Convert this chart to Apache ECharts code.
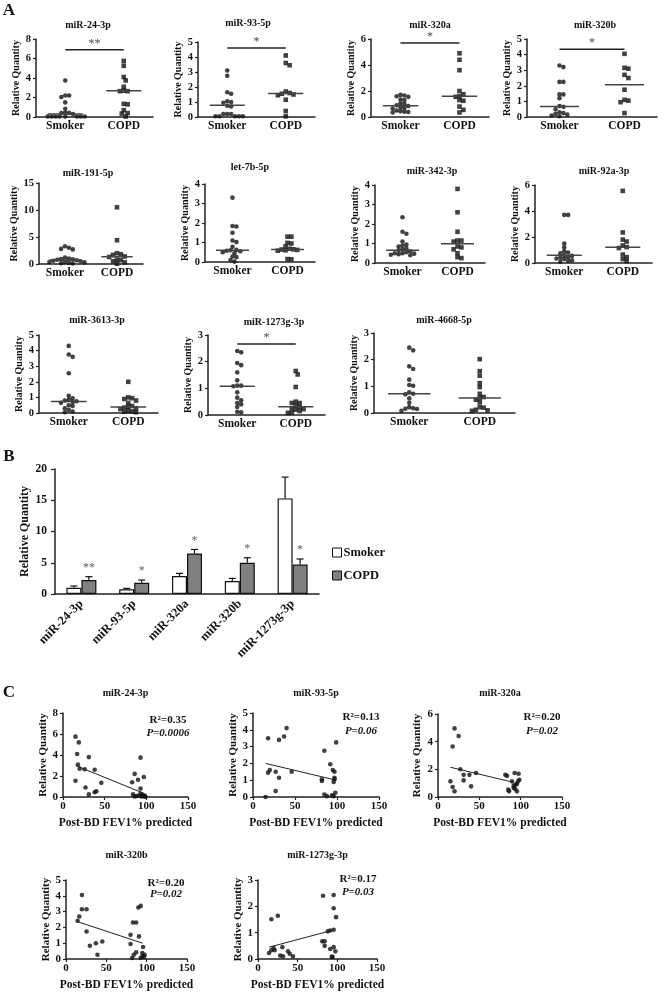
<!DOCTYPE html>
<html>
<head>
<meta charset="utf-8">
<script src="https://cdn.jsdelivr.net/npm/echarts@6/dist/echarts.min.js"></script>
<style>
html, body { margin: 0; padding: 0; background: #fff; }
#chart { width: 664px; height: 992px; }
</style>
</head>
<body>
<div id="chart"></div>
<script>
/* ---------- Panel A : dot plots (Smoker vs COPD) ---------- */
var aTitles = ['miR-24-3p', 'miR-93-5p', 'miR-320a', 'miR-320b', 'miR-191-5p', 'let-7b-5p',
               'miR-342-3p', 'miR-92a-3p', 'miR-3613-3p', 'miR-1273g-3p', 'miR-4668-5p'];
var groupLabels = ['Smoker', 'COPD'];

var smoker243 = [3.75, 2.2, 2.2, 2.05, 1.5, 0.85, 0.45, 0.42, 0.4, 0.3, 0.05, 0.05, 0.05, 0.05, 0.05, 0.05, 0.05, 0.05];
var copd243 = [5.75, 5.25, 4.1, 3.75, 3.1, 2.7, 2.65, 2.65, 1.35, 1.3, 0.7, 0.4, 0.35, 0.05];
var smoker935 = [3.1, 2.75, 1.65, 1.55, 1.05, 1.0, 0.95, 0.75, 0.7, 0.2, 0.2, 0.2, 0.05, 0.05, 0.05, 0.05, 0.05];
var copd935 = [4.1, 3.6, 3.45, 1.7, 1.6, 1.55, 1.5, 1.45, 1.15, 0.4, 0.05];
var smoker320a = [1.7, 1.65, 1.6, 1.55, 1.35, 1.3, 1.05, 1.0, 0.9, 0.85, 0.75, 0.7, 0.65, 0.5, 0.45, 0.4, 0.38, 0.35];
var copd320a = [4.9, 4.4, 3.6, 2.0, 1.75, 1.6, 1.55, 1.3, 1.25, 0.8, 0.55, 0.35];
var smoker320b = [3.3, 3.2, 2.25, 2.25, 1.45, 1.45, 1.2, 0.7, 0.65, 0.5, 0.3, 0.25, 0.2, 0.15, 0.1, 0.05];
var copd320b = [4.05, 3.15, 3.1, 2.7, 2.5, 1.75, 1.1, 1.05, 0.95, 0.25];
var smoker191 = [3.3, 3.0, 2.8, 2.7, 1.2, 1.0, 0.9, 0.85, 0.8, 0.7, 0.6, 0.5, 0.4, 0.35, 0.3, 0.2, 0.15, 0.1];
var copd191 = [10.5, 4.4, 2.0, 1.8, 1.7, 1.4, 1.3, 0.8, 0.7, 0.5, 0.3, 0.05];
var smokerLet7b = [3.3, 1.85, 1.82, 1.5, 1.1, 1.02, 0.78, 0.62, 0.6, 0.58, 0.55, 0.5, 0.45, 0.28, 0.25, 0.1, 0.02];
var copdLet7b = [1.3, 1.3, 0.98, 0.95, 0.8, 0.68, 0.65, 0.64, 0.62, 0.6, 0.58, 0.15, 0.14];
var smoker342 = [2.35, 1.6, 1.5, 1.1, 0.95, 0.9, 0.85, 0.75, 0.7, 0.65, 0.6, 0.55, 0.5, 0.5, 0.48, 0.45, 0.42, 0.4];
var copd342 = [3.8, 2.6, 1.6, 1.15, 1.15, 1.1, 0.85, 0.8, 0.7, 0.5, 0.3, 0.25];
var smoker92a = [3.7, 3.7, 1.5, 1.2, 0.9, 0.8, 0.75, 0.6, 0.55, 0.45, 0.4, 0.35, 0.3, 0.2, 0.15, 0.1];
var copd92a = [5.55, 2.35, 1.8, 1.65, 1.35, 1.22, 1.15, 0.65, 0.45, 0.3, 0.15];
var smoker3613 = [4.3, 3.75, 3.6, 2.55, 1.1, 0.95, 0.85, 0.8, 0.75, 0.7, 0.65, 0.5, 0.45, 0.3, 0.2, 0.1, 0.05];
var copd3613 = [2.0, 1.0, 0.95, 0.9, 0.8, 0.65, 0.45, 0.4, 0.35, 0.3, 0.25, 0.15, 0.1, 0.08, 0.05];
var smoker1273 = [2.4, 2.35, 1.95, 1.87, 1.6, 1.3, 1.1, 1.1, 1.08, 0.85, 0.65, 0.55, 0.45, 0.4, 0.3, 0.12, 0.1];
var copd1273 = [1.65, 1.52, 1.05, 0.5, 0.45, 0.45, 0.35, 0.3, 0.25, 0.22, 0.2, 0.15, 0.1, 0.08];
var smoker4668 = [2.45, 2.35, 1.75, 1.65, 1.25, 1.05, 1.02, 0.78, 0.72, 0.7, 0.55, 0.38, 0.22, 0.18, 0.16, 0.15, 0.08];
var copd4668 = [2.02, 1.57, 1.4, 1.12, 0.97, 0.72, 0.6, 0.56, 0.5, 0.4, 0.22, 0.2, 0.12, 0.1, 0.08];

var aMedSmoker = [0.3, 0.78, 0.87, 0.68, 0.74, 0.6, 0.65, 0.59, 0.74, 1.08, 0.72];
var aMedCopd = [2.7, 1.56, 1.59, 2.07, 1.35, 0.64, 0.99, 1.22, 0.38, 0.31, 0.56];
var aYMax = [8, 5, 6, 5, 15, 4, 4, 6, 5, 3, 3];
var aYStep = [2, 1, 2, 1, 5, 1, 1, 2, 1, 1, 1];
var aSigLevel = [6.9, 4.6, 5.7, 4.35, null, null, null, null, null, 2.66, null];
var aSigMark = ['**', '*', '*', '*', '', '', '', '', '', '*', ''];

/* ---------- Panel B : bar chart ---------- */
var bCats = ['miR-24-3p', 'miR-93-5p', 'miR-320a', 'miR-320b', 'miR-1273g-3p'];
var bSmoker = [1.0, 0.75, 2.87, 2.07, 15.3];
var bSmokerErr = [1.28, 0.9, 3.3, 2.5, 18.7];
var bCopd = [2.23, 1.81, 6.49, 5.0, 4.72];
var bCopdErr = [2.77, 2.23, 7.13, 5.8, 5.6];
var bStars = ['**', '*', '*', '*', '*'];
var bYTicks = [0, 5, 10, 15, 20];

/* ---------- Panel C : correlation with FEV1 ---------- */
var cTitles = ['miR-24-3p', 'miR-93-5p', 'miR-320a', 'miR-320b', 'miR-1273g-3p'];
var cR2 = ['0.35', '0.13', '0.20', '0.20', '0.17'];
var cP = ['0.0006', '0.06', '0.02', '0.02', '0.03'];
var cYMax = [8, 5, 6, 5, 3];
var cYStep = [2, 1, 2, 1, 1];
var cXTicks = [0, 50, 100, 150];

var fev24 = [[15, 5.75], [19, 5.2], [17, 4.1], [18, 3.1], [20, 2.7], [15, 1.55], [26, 2.65], [31, 3.8], [38, 2.6],
  [27, 0.9], [31, 0.25], [38, 0.45], [40, 0.55], [46, 1.35], [83, 1.4], [86, 2.2], [90, 1.65], [93, 3.75], [93, 0.8],
  [97, 1.9], [84, 0.25], [86, 0.05], [88, 0.1], [91, 0.15], [93, 0.3], [94, 0.05], [95, 0.2], [96, 0.1], [97, 0.05],
  [98, 0.15], [99, 0.02]];
var fev93 = [[15, 0.0], [18, 3.5], [18, 1.45], [20, 1.6], [27, 1.5], [27, 0.35], [31, 3.4], [31, 1.15], [37, 3.6],
  [40, 4.1], [46, 1.5], [82, 1.05], [82, 0.95], [85, 2.75], [85, 0.15], [88, 0.05], [92, 1.95], [94, 0.1], [95, 1.6],
  [96, 0.9], [96, 0.05], [97, 1.5], [97, 1.15], [97, 1.05], [98, 0.25], [99, 3.25]];
var fev320a = [[15, 1.13], [17.7, 3.65], [20, 4.96], [17.7, 0.72], [20, 0.41], [25, 4.41], [27, 2.01], [31, 1.6],
  [31, 1.2], [38, 1.6], [40, 0.77], [46, 1.73], [81.5, 1.6], [83.5, 1.53], [85, 0.53], [86, 0.41], [89.5, 1.13],
  [91.5, 0.82], [91.5, 0.65], [92.7, 1.73], [93.5, 0.58], [94, 0.89], [95.5, 0.41], [96.8, 1.13], [97.5, 1.68],
  [98.4, 1.25], [95.5, 0.96]];
var fev320b = [[14.4, 2.42], [16.5, 2.69], [19.8, 4.05], [19.8, 3.15], [25.5, 3.15], [25.5, 1.74], [29.6, 0.84],
  [37, 1.0], [39, 0.27], [45, 1.11], [80, 0.95], [80, 1.53], [82, 0.06], [83, 2.31], [87, 2.31], [84, 0.27],
  [87, 0.42], [89.7, 3.26], [92.6, 3.36], [90.5, 1.43], [92.6, 0.06], [94.6, 0.17], [94.6, 0.38], [95.5, 0.76],
  [96.7, 0.13], [97.5, 0.27]];
var fev1273 = [[13.9, 0.23], [16.8, 0.33], [16.8, 1.51], [19.7, 0.42], [21, 0.33], [25, 1.64], [28, 0.13],
  [30.7, 0.45], [31.5, 0.1], [37.8, 0.29], [40, 0.2], [44, 0.1], [82, 2.4], [81, 0.67], [84, 0.67], [84, 0.5],
  [88, 1.05], [91, 1.08], [91, 0.38], [93, 0.08], [95.4, 2.43], [95.4, 1.93], [98.4, 1.59], [95.4, 1.11],
  [95.4, 0.45], [97.5, 0.29], [94, 0.08]];
var fitLine24 = [[15, 3.0], [97, 0.35]];
var fitLine93 = [[15, 2.0], [99, 1.0]];
var fitLine320a = [[15, 2.15], [92, 1.05]];
var fitLine320b = [[14, 2.37], [95, 1.0]];
var fitLine1273 = [[14, 0.45], [95, 1.1]];

/* ---------- layout ---------- */
var FONT = '"Liberation Serif", "Times New Roman", serif';
var INK = '#111';
// [left, top, right, bottom] of each panel-A plot area, y-name gap, title centre
var aBoxes = [[36, 39, 153, 117], [198, 42, 315, 117], [371, 39, 489, 117], [527, 39, 657, 117],
              [39, 183, 143, 264], [205, 184, 315, 262], [375, 185, 485, 263], [535, 185, 652, 263],
              [39, 335, 158, 413], [208, 335, 325, 415], [374, 333, 515, 413]];
var aNameGap = [13, 10, 15, 8, 20, 14, 11, 6, 8, 10, 7];
var aTitlePos = [[88, 25], [248, 23], [430, 25], [595, 25], [88, 173], [250, 167], [432, 171], [604, 171],
                 [97, 320], [274, 322], [444, 320]];
var cBoxes = [[63, 713, 125, 84], [253, 713, 126, 84], [438, 714, 124, 83], [66, 880, 121, 79], [258, 880, 119, 79]];
var cNameGap = [11, 14, 15, 14, 14];
var cTitleY = [693, 693, 693, 855, 855];
var cStatPos = [[168, 720, 733], [361, 717, 731], [542, 717, 731], [166, 883, 894], [358, 879, 892]];

var grids = [], xAxes = [], yAxes = [], series = [], graphics = [];

function txt(x, y, s, size, weight, style) {
    graphics.push({
        type: 'text', x: x, y: y, silent: true,
        style: {
            text: s, fill: INK, fontFamily: FONT, fontSize: size,
            fontWeight: weight || 'bold', fontStyle: style || 'normal',
            align: 'center', verticalAlign: 'middle'
        }
    });
}

function axisLine() {
    return { show: true, onZero: false, lineStyle: { color: '#222', width: 1.5 } };
}

function labelStyle(size, margin) {
    return { fontFamily: FONT, fontWeight: 'bold', fontSize: size, color: INK, margin: margin };
}

/* simple beeswarm: spread points sideways so the dots do not overlap */
function swarm(values, center, pxPerX, pxPerY) {
    var dot = 3.9, placed = [], out = [];
    var order = values.map(function (v, k) { return k; })
        .sort(function (a, b) { return values[b] - values[a]; });
    order.forEach(function (k) {
        var yp = values[k] * pxPerY, off = 0;
        for (var n = 0; n < 60; n++) {
            var cand = (n % 2 ? 1 : -1) * Math.ceil(n / 2) * dot / 2;
            var hit = placed.some(function (p) {
                var dx = p[0] - cand, dy = p[1] - yp;
                return dx * dx + dy * dy < dot * dot * 0.95;
            });
            if (!hit) { off = cand; break; }
        }
        placed.push([off, yp]);
        out[k] = [center + off / pxPerX, values[k]];
    });
    return out;
}

/* ---------- build panel A ---------- */
var aSmoker = [smoker243, smoker935, smoker320a, smoker320b, smoker191, smokerLet7b,
               smoker342, smoker92a, smoker3613, smoker1273, smoker4668];
var aCopd = [copd243, copd935, copd320a, copd320b, copd191, copdLet7b,
             copd342, copd92a, copd3613, copd1273, copd4668];

aTitles.forEach(function (title, i) {
    var b = aBoxes[i], gi = grids.length;
    var w = b[2] - b[0], h = b[3] - b[1];
    grids.push({ left: b[0], top: b[1], width: w, height: h, containLabel: false, outerBoundsMode: 'none' });
    xAxes.push({
        gridIndex: gi, type: 'value', min: 0, max: 2, interval: 0.5,
        axisLine: axisLine(), axisTick: { show: false }, splitLine: { show: false },
        axisLabel: Object.assign(labelStyle(11.5, 3), {
            formatter: function (v) { return v === 0.5 ? groupLabels[0] : (v === 1.5 ? groupLabels[1] : ''); }
        })
    });
    yAxes.push({
        gridIndex: gi, type: 'value', min: 0, max: aYMax[i], interval: aYStep[i],
        name: 'Relative Quantity', nameLocation: 'middle', nameGap: aNameGap[i],
        nameTextStyle: { fontFamily: FONT, fontWeight: 'bold', fontSize: 10, color: INK },
        axisLine: axisLine(), splitLine: { show: false },
        axisTick: { show: true, length: 3, lineStyle: { color: '#222', width: 1.2 } },
        axisLabel: labelStyle(10.5, 5)
    });
    txt(aTitlePos[i][0], aTitlePos[i][1], title, 10);

    var pxX = w / 2, pxY = h / aYMax[i];
    series.push({
        type: 'scatter', name: 'A' + i + ' smoker', xAxisIndex: gi, yAxisIndex: gi,
        data: swarm(aSmoker[i], 0.5, pxX, pxY), symbol: 'circle', symbolSize: 4.6,
        itemStyle: { color: INK }, silent: true
    });
    series.push({
        type: 'scatter', name: 'A' + i + ' copd', xAxisIndex: gi, yAxisIndex: gi,
        data: swarm(aCopd[i], 1.5, pxX, pxY), symbol: 'rect', symbolSize: 4.6,
        itemStyle: { color: INK }, silent: true
    });
    [[0.5, aMedSmoker[i]], [1.5, aMedCopd[i]]].forEach(function (m) {
        series.push({
            type: 'line', xAxisIndex: gi, yAxisIndex: gi, symbol: 'none', silent: true,
            data: [[m[0] - 0.3, m[1]], [m[0] + 0.3, m[1]]],
            lineStyle: { color: '#444', width: 1.5 }
        });
    });
    if (aSigLevel[i] !== null) {
        series.push({
            type: 'line', xAxisIndex: gi, yAxisIndex: gi, symbol: 'none', silent: true,
            data: [[0.5, aSigLevel[i]], [1.5, aSigLevel[i]]],
            lineStyle: { color: '#222', width: 1.5 }
        });
        series.push({
            type: 'scatter', xAxisIndex: gi, yAxisIndex: gi, symbolSize: 0, silent: true,
            data: [[1, aSigLevel[i]]],
            label: { show: true, position: 'top', distance: 0, formatter: aSigMark[i],
                     fontFamily: FONT, fontSize: 12, color: INK }
        });
    }
});

/* ---------- build panel B ---------- */
var bGrid = grids.length;
var BAR_W = 15;
grids.push({ left: 55, top: 469, width: 264, height: 125, containLabel: false, outerBoundsMode: 'none' });
xAxes.push({
    gridIndex: bGrid, type: 'category', data: bCats,
    axisLine: axisLine(), axisTick: { show: false },
    axisLabel: Object.assign(labelStyle(12.5, 8), { rotate: 45, interval: 0 })
});
yAxes.push({
    gridIndex: bGrid, type: 'value', min: bYTicks[0], max: bYTicks[bYTicks.length - 1], interval: bYTicks[1] - bYTicks[0],
    name: 'Relative Quantity', nameLocation: 'middle', nameGap: 24,
    nameTextStyle: { fontFamily: FONT, fontWeight: 'bold', fontSize: 12, color: INK },
    axisLine: axisLine(), splitLine: { show: false },
    axisTick: { show: true, length: 4, lineStyle: { color: '#222', width: 1.2 } },
    axisLabel: labelStyle(11.5, 8)
});
series.push({
    type: 'bar', name: 'Smoker', xAxisIndex: bGrid, yAxisIndex: bGrid, data: bSmoker,
    barWidth: BAR_W, barGap: '0%', itemStyle: { color: '#fff', borderColor: INK, borderWidth: 1.2 }
});
series.push({
    type: 'bar', name: 'COPD', xAxisIndex: bGrid, yAxisIndex: bGrid, data: bCopd,
    barWidth: BAR_W, barGap: '0%', itemStyle: { color: '#808080', borderColor: INK, borderWidth: 1.2 }
});

function errorBars(values, tops, shift) {
    return {
        type: 'custom', xAxisIndex: bGrid, yAxisIndex: bGrid, silent: true, z: 3,
        encode: { x: 0, y: 1 },
        data: values.map(function (v, k) { return [k, v, tops[k]]; }),
        renderItem: function (params, api) {
            var base = api.coord([api.value(0), api.value(1)]);
            var top = api.coord([api.value(0), api.value(2)]);
            var x = base[0] + shift;
            var st = { stroke: INK, lineWidth: 1.2 };
            return {
                type: 'group', children: [
                    { type: 'line', shape: { x1: x, y1: base[1], x2: x, y2: top[1] }, style: st },
                    { type: 'line', shape: { x1: x - 3.5, y1: top[1], x2: x + 3.5, y2: top[1] }, style: st }
                ]
            };
        }
    };
}
series.push(errorBars(bSmoker, bSmokerErr, -BAR_W / 2));
series.push(errorBars(bCopd, bCopdErr, BAR_W / 2));
series.push({
    type: 'scatter', xAxisIndex: bGrid, yAxisIndex: bGrid, symbolSize: 0, silent: true,
    data: bCopdErr.map(function (v, k) { return [k, v]; }),
    label: {
        show: true, position: 'top', distance: 3, offset: [BAR_W / 2, 0],
        formatter: function (p) { return bStars[p.dataIndex]; },
        fontFamily: FONT, fontSize: 12, color: '#333'
    }
});

/* ---------- build panel C ---------- */
var cPoints = [fev24, fev93, fev320a, fev320b, fev1273];
var cFits = [fitLine24, fitLine93, fitLine320a, fitLine320b, fitLine1273];

cTitles.forEach(function (title, i) {
    var b = cBoxes[i], gi = grids.length;
    grids.push({ left: b[0], top: b[1], width: b[2], height: b[3], containLabel: false, outerBoundsMode: 'none' });
    xAxes.push({
        gridIndex: gi, type: 'value', min: cXTicks[0], max: cXTicks[cXTicks.length - 1],
        interval: cXTicks[1] - cXTicks[0],
        name: 'Post-BD FEV1% predicted', nameLocation: 'middle', nameGap: 20,
        nameTextStyle: { fontFamily: FONT, fontWeight: 'bold', fontSize: 11.5, color: INK },
        axisLine: axisLine(), splitLine: { show: false },
        axisTick: { show: true, length: 3, lineStyle: { color: '#222', width: 1.2 } },
        axisLabel: labelStyle(11, 4)
    });
    yAxes.push({
        gridIndex: gi, type: 'value', min: 0, max: cYMax[i], interval: cYStep[i],
        name: 'Relative Quantity', nameLocation: 'middle', nameGap: cNameGap[i],
        nameTextStyle: { fontFamily: FONT, fontWeight: 'bold', fontSize: 11, color: INK },
        axisLine: axisLine(), splitLine: { show: false },
        axisTick: { show: true, length: 3, lineStyle: { color: '#222', width: 1.2 } },
        axisLabel: labelStyle(11, 5)
    });
    series.push({
        type: 'scatter', xAxisIndex: gi, yAxisIndex: gi, data: cPoints[i],
        symbol: 'circle', symbolSize: 4.6, itemStyle: { color: INK }, silent: true
    });
    series.push({
        type: 'line', xAxisIndex: gi, yAxisIndex: gi, data: cFits[i], symbol: 'none', silent: true,
        lineStyle: { color: '#222', width: 1 }
    });
    txt(b[0] + b[2] / 2, cTitleY[i], title, 10);
    txt(cStatPos[i][0], cStatPos[i][1], 'R\u00b2=' + cR2[i], 11);
    txt(cStatPos[i][0], cStatPos[i][2], 'P=' + cP[i], 11, 'bold', 'italic');
});

/* panel letters */
txt(9, 11, 'A', 17);
txt(9, 457, 'B', 17);
txt(9, 693, 'C', 17);

var chart = echarts.init(document.getElementById('chart'));
chart.setOption({
    animation: false,
    backgroundColor: '#fff',
    grid: grids,
    xAxis: xAxes,
    yAxis: yAxes,
    series: series,
    graphic: graphics,
    legend: {
        data: ['Smoker', 'COPD'], orient: 'vertical', left: 332, top: 546, padding: 0,
        itemWidth: 9, itemHeight: 9, itemGap: 10, icon: 'rect', selectedMode: false,
        itemStyle: { borderColor: INK, borderWidth: 1 },
        textStyle: { fontFamily: FONT, fontWeight: 'bold', fontSize: 12.5, color: INK, padding: [0, 0, 0, -3] }
    }
});
</script>
</body>
</html>
